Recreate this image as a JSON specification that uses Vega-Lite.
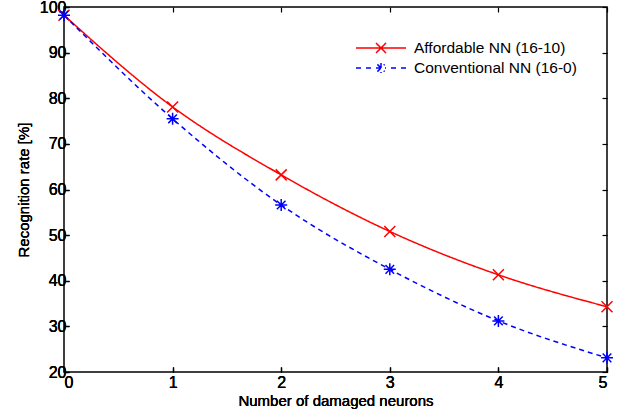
{
  "$schema": "https://vega.github.io/schema/vega-lite/v6.json",
  "width": 543,
  "height": 365,
  "autosize": {"type": "none"},
  "padding": {"left": 64, "top": 7, "right": 24, "bottom": 47},
  "background": "#ffffff",
  "config": {
    "font": "Arial, Liberation Sans, sans-serif",
    "view": {"stroke": "#000000", "strokeWidth": 1.5},
    "axis": {
      "grid": false,
      "domain": false,
      "tickColor": "#000000",
      "tickSize": -5,
      "tickWidth": 1.2,
      "labelFont": "Arial, Liberation Sans, sans-serif",
      "labelFontSize": 16,
      "labelColor": "#000000",
      "labelPadding": 4,
      "titleFont": "Arial, Liberation Sans, sans-serif",
      "titleFontSize": 15,
      "titleFontWeight": "normal",
      "titleColor": "#000000"
    },
    "legend": {
      "symbolSize": 400,
      "symbolStrokeWidth": 1.5,
      "symbolOpacity": 1,
      "labelFont": "Arial, Liberation Sans, sans-serif",
      "labelFontSize": 15.5,
      "labelColor": "#000000",
      "labelLimit": 0,
      "labelOffset": 22,
      "rowPadding": 0,
      "padding": 0
    }
  },
  "data": {
    "values": [
      {"n": 0, "series": "Affordable NN (16-10)", "rate": 98.2},
      {"n": 1, "series": "Affordable NN (16-10)", "rate": 78.1},
      {"n": 2, "series": "Affordable NN (16-10)", "rate": 63.2},
      {"n": 3, "series": "Affordable NN (16-10)", "rate": 50.8},
      {"n": 4, "series": "Affordable NN (16-10)", "rate": 41.3},
      {"n": 5, "series": "Affordable NN (16-10)", "rate": 34.3},
      {"n": 0, "series": "Conventional NN (16-0)", "rate": 98.2},
      {"n": 1, "series": "Conventional NN (16-0)", "rate": 75.5},
      {"n": 2, "series": "Conventional NN (16-0)", "rate": 56.6},
      {"n": 3, "series": "Conventional NN (16-0)", "rate": 42.5},
      {"n": 4, "series": "Conventional NN (16-0)", "rate": 31.2},
      {"n": 5, "series": "Conventional NN (16-0)", "rate": 23.1}
    ]
  },
  "encoding": {
    "x": {
      "field": "n",
      "type": "quantitative",
      "scale": {"domain": [0, 5], "nice": false, "zero": false},
      "axis": {"orient": "bottom", "values": [0, 1, 2, 3, 4, 5], "title": "Number of damaged neurons", "labelPadding": 7, "titlePadding": 3, "titleFontWeight": "normal", "titleFontSize": 15, "format": "d"}
    },
    "y": {
      "field": "rate",
      "type": "quantitative",
      "scale": {"domain": [20, 100], "nice": false, "zero": false},
      "axis": {"orient": "left", "values": [20, 30, 40, 50, 60, 70, 80, 90, 100], "title": "Recognition rate [%]", "labelPadding": 3, "titlePadding": 8, "titleFontWeight": "normal", "titleFontSize": 15, "format": "d"}
    },
    "color": {
      "field": "series",
      "type": "nominal",
      "scale": {"domain": ["Affordable NN (16-10)", "Conventional NN (16-0)"], "range": ["#ff0000", "#0000ff"]},
      "legend": {"title": null, "orient": "none", "legendX": 306, "legendY": 30}
    }
  },
  "layer": [
    {
      "mark": {"type": "line", "interpolate": "monotone", "strokeWidth": 1.5},
      "encoding": {
        "strokeDash": {
          "field": "series",
          "type": "nominal",
          "scale": {"domain": ["Affordable NN (16-10)", "Conventional NN (16-0)"], "range": [[1, 0], [5, 4]]},
          "legend": null
        }
      }
    },
    {
      "transform": [{"filter": "datum.series === 'Affordable NN (16-10)'"}],
      "mark": {"type": "point", "shape": "M-1,-1L1,1M-1,1L1,-1", "size": 121, "filled": false, "strokeWidth": 1.5, "opacity": 1}
    },
    {
      "transform": [{"filter": "datum.series === 'Conventional NN (16-0)'"}],
      "mark": {"type": "point", "shape": "M-1,0H1M0,-1V1M-0.72,-0.72L0.72,0.72M-0.72,0.72L0.72,-0.72", "size": 144, "filled": false, "strokeWidth": 1.5, "opacity": 1}
    },
    {
      "mark": {"type": "point", "filled": false, "opacity": 0},
      "encoding": {
        "x": {
          "field": "n",
          "type": "quantitative",
          "axis": {"orient": "top", "values": [0, 1, 2, 3, 4, 5], "labels": false, "title": null}
        },
        "y": {
          "field": "rate",
          "type": "quantitative",
          "axis": {"orient": "right", "values": [20, 30, 40, 50, 60, 70, 80, 90, 100], "labels": false, "title": null}
        },
        "shape": {
          "field": "series",
          "type": "nominal",
          "scale": {
            "domain": ["Affordable NN (16-10)", "Conventional NN (16-0)"],
            "range": [
              "M-2.5,0H2.5M-0.5,-0.5L0.5,0.5M-0.5,0.5L0.5,-0.5",
              "M-2.5,0H-2M-1.5,0H-1M1,0H1.5M2,0H2.5M-0.5,0H0.5M0,-0.5V0.5M-0.36,-0.36L0.36,0.36M-0.36,0.36L0.36,-0.36"
            ]
          },
          "legend": {"title": null, "orient": "none", "legendX": 306, "legendY": 30}
        }
      }
    }
  ],
  "resolve": {"axis": {"x": "independent", "y": "independent"}}
}
